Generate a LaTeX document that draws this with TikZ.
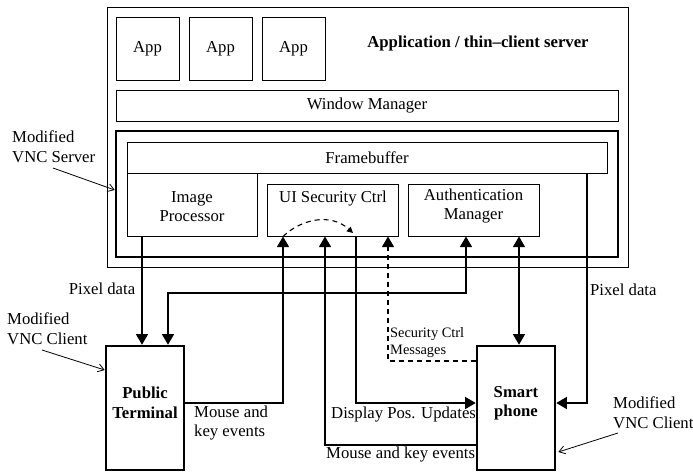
\documentclass[tikz,border=0pt]{standalone}
\usepackage{fontspec}
\setmainfont{Liberation Serif}
\usetikzlibrary{arrows.meta}
\newcommand\mainfs{\fontsize{16.7}{19.5}\selectfont}
\newcommand\smallfs{\fontsize{14.4}{17}\selectfont}
\begin{document}
\begin{tikzpicture}[x=1pt,y=-1pt,
  every node/.style={font=\mainfs},
  box/.style={draw,line width=1pt,inner sep=0pt,align=center},
  thickbox/.style={draw,line width=2.6pt,inner sep=0pt,align=center},
  conn/.style={line width=1.1pt},
  tip/.style={-{Triangle[length=10.5pt,width=12pt]}},
  dtip/.style={{Triangle[length=10.5pt,width=12pt]}-{Triangle[length=10.5pt,width=12pt]}},
  note/.style={line width=0.8pt,-{Straight Barb[length=6pt,width=8pt]}},
  lbl/.style={align=left,inner sep=0pt},
  mydash/.style={dash pattern=on 5pt off 4pt}]
\useasboundingbox (0,0) rectangle (693,471);

% server
\node[box,minimum width=521pt,minimum height=260pt] (srv) at (367.5,137) {};
\node[box,minimum width=63pt,minimum height=63pt] (app1) at (147.5,48.5) {App};
\node[box,minimum width=63pt,minimum height=63pt] (app2) at (220.5,48.5) {App};
\node[box,minimum width=63pt,minimum height=63pt] (app3) at (293.5,48.5) {App};
\node[font=\mainfs\bfseries] (title) at (478,43) {Application / thin--client server};
\node[box,minimum width=502pt,minimum height=31pt] (wm) at (367,105.5) {Window Manager};
\node[thickbox,minimum width=502pt,minimum height=126pt] (vnc) at (367,194) {};
\node[box,minimum width=480pt,minimum height=31pt] (fb) at (367,157.5) {Framebuffer};
\node[box,minimum width=130pt,minimum height=63pt,
  label={[align=center,yshift=-2pt]center:Image\\Processor}] (ip) at (192,204.5) {};
\node[box,minimum width=131pt,minimum height=52pt,
  label={[yshift=11pt]center:UI Security Ctrl}] (ui) at (333,210) {};
\node[box,minimum width=131pt,minimum height=52pt,
  label={[align=center,yshift=4pt]center:Authentication\\Manager}] (auth) at (473.5,210) {};

% clients
\node[thickbox,minimum width=78pt,minimum height=124pt,
  label={[align=center,font=\mainfs\bfseries,yshift=5pt]center:Public\\Terminal}] (pt) at (145,408) {};
\node[thickbox,minimum width=78pt,minimum height=124pt,
  label={[align=center,font=\mainfs\bfseries,yshift=5pt]center:Smart\\phone}] (sp) at (516,408) {};

% connectors
\draw[conn,tip] (ip.south -| 142,0) -- (pt.north -| 142,0);
\draw[conn,dtip] (auth.south -| 466,0) -- (466,293) -| (pt.north -| 168,0);
\draw[conn,tip] (pt.east |- 0,403) -| (ui.south -| 283,0);
\draw[conn,tip] (sp.west |- 0,445) -| (ui.south -| 325,0);
\draw[conn,tip] (ui.south -| 356,0) |- (sp.west |- 0,403);
\draw[conn,mydash,-{Triangle[length=6pt,width=6pt]}] (ui.south -| 283,0)
  .. controls (300,220) and (330,212) .. (353,233);
\draw[conn,mydash,tip] (sp.west |- 0,361) -| (ui.south -| 388,0);
\draw[conn,dtip] (auth.south -| 519,0) -- (sp.north -| 519,0);
\draw[conn,tip] (fb.south -| 587,0) |- (sp.east |- 0,403);

% labels
\node[lbl] (l1) at (102,289) {Pixel data};
\node[lbl,anchor=west] (l2) at (590,290) {Pixel data};
\node[lbl,anchor=west] (l3) at (194,423) {Mouse and\\key events};
\node[lbl,anchor=west] (l4) at (331,415) {Display Pos. Updates};
\node[lbl,anchor=west] (l5) at (326,455) {Mouse and key events};
\node[lbl,anchor=west,font=\smallfs] (l6) at (390,343) {Security Ctrl\\Messages};

% annotations
\node[lbl,anchor=west,font=\fontsize{16.7}{20}\selectfont] (n1) at (12,147) {Modified\\VNC Server};
\node[lbl,anchor=west,font=\fontsize{16.7}{20}\selectfont] (n2) at (7,329) {Modified\\VNC Client};
\node[lbl,anchor=west,font=\fontsize{16.7}{20}\selectfont] (n3) at (613,413) {Modified\\VNC Client};
\coordinate (a1) at (53,168);
\coordinate (a2) at (42,350);
\coordinate (a3) at (618,433);
\draw[note] (a1) -- (vnc.west |- 0,190);
\draw[note] (a2) -- (pt.west |- 0,370);
\draw[note] (a3) -- ([xshift=2pt]sp.east |- 0,452);
\end{tikzpicture}
\end{document}
